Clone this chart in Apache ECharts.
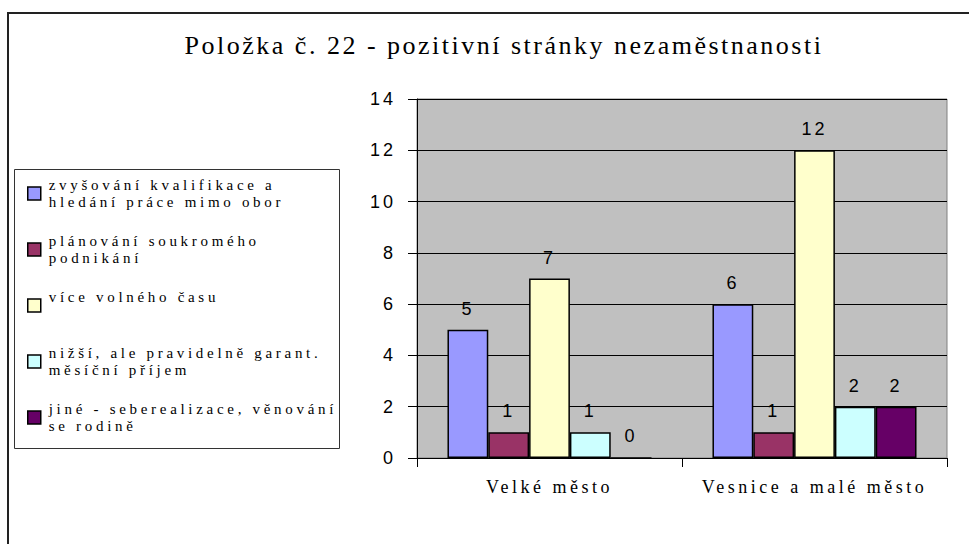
<!DOCTYPE html>
<html>
<head>
<meta charset="utf-8">
<script src="https://cdn.jsdelivr.net/npm/echarts@6/dist/echarts.min.js"></script>
<style>
html, body { margin: 0; padding: 0; background: #fff; }
#main { width: 969px; height: 544px; }
/* the original chart is drawn with widely spaced letters */
#main text[style*="26px"] { letter-spacing: 2.5px; }
#main text[style*="15px"] { letter-spacing: 3.7px; }
#main text[style*="Serif"][style*="18px"] { letter-spacing: 3.5px; }
#main text[style*="Sans"][style*="18px"] { letter-spacing: 3px; }
</style>
</head>
<body>
<div id="main"></div>
<script>
var categories = ['Velké město', 'Vesnice a malé město'];
var names = [
    'zvyšování kvalifikace a\nhledání práce mimo obor',
    'plánování soukromého\npodnikání',
    'více volného času',
    'nižší, ale pravidelně garant.\nměsíční příjem',
    'jiné - seberealizace, věnování\nse rodině'
];
var kvalifikace = [5, 6];
var podnikani = [1, 1];
var volnyCas = [7, 12];
var prijem = [1, 2];
var jine = [0, 2];
var yTicks = [0, 2, 4, 6, 8, 10, 12, 14];

var colors = ['#9999FF', '#993366', '#FFFFCC', '#CCFFFF', '#660066'];
var values = [kvalifikace, podnikani, volnyCas, prijem, jine];

var myChart = echarts.init(document.getElementById('main'), null, {renderer: 'svg'});

var series = [];
for (var i = 0; i < names.length; i++) {
    series.push({
        name: names[i],
        type: 'bar',
        data: values[i],
        barGap: 0,
        barCategoryGap: '23%',
        itemStyle: {
            color: colors[i],
            borderColor: '#000',
            borderWidth: 1.5
        },
        label: {
            show: true,
            position: 'top',
            distance: 12,
            color: '#000',
            fontFamily: 'Liberation Sans',
            fontSize: 18
        }
    });
}

var option = {
    animation: false,
    backgroundColor: '#fff',
    textStyle: {
        fontFamily: 'Liberation Serif'
    },
    title: {
        text: 'Položka č. 22 - pozitivní stránky nezaměstnanosti',
        left: 499,
        top: 27,
        textAlign: 'center',
        textStyle: {
            fontFamily: 'Liberation Serif',
            fontSize: 26,
            fontWeight: 'normal',
            color: '#000'
        }
    },
    legend: {
        orient: 'vertical',
        left: 22,
        top: 163,
        itemWidth: 13,
        itemHeight: 13,
        itemGap: 5,
        icon: 'rect',
        selectedMode: false,
        data: names,
        formatter: function (name) {
            return name.indexOf('\n') < 0 ? name + '\n' : name;
        },
        itemStyle: {
            borderColor: '#000',
            borderWidth: 1.5
        },
        textStyle: {
            fontFamily: 'Liberation Serif',
            fontSize: 15,
            lineHeight: 17,
            color: '#000',
            padding: [17, 0, 0, 3]
        }
    },
    graphic: [
        {
            type: 'rect',
            silent: true,
            shape: {x: 8, y: 13, width: 1000, height: 600},
            style: {fill: 'none', stroke: '#222', lineWidth: 2}
        },
        {
            type: 'rect',
            silent: true,
            shape: {x: 14.5, y: 169.5, width: 325, height: 279},
            style: {fill: 'none', stroke: '#333', lineWidth: 1}
        }
    ],
    grid: {
        left: 417,
        right: 22,
        top: 99,
        bottom: 86,
        show: true,
        backgroundColor: '#C0C0C0',
        borderColor: '#808080',
        borderWidth: 1
    },
    xAxis: {
        type: 'category',
        data: categories,
        axisLine: {show: true, lineStyle: {color: '#000', width: 1}},
        axisTick: {show: true, length: 9, lineStyle: {color: '#000'}},
        axisLabel: {
            margin: 20,
            color: '#000',
            fontFamily: 'Liberation Serif',
            fontSize: 18
        }
    },
    yAxis: {
        type: 'value',
        min: yTicks[0],
        max: yTicks[yTicks.length - 1],
        interval: 2,
        axisLine: {show: true, lineStyle: {color: '#000', width: 1}},
        axisTick: {show: true, length: 9, lineStyle: {color: '#000'}},
        axisLabel: {
            margin: 21,
            color: '#000',
            fontFamily: 'Liberation Sans',
            fontSize: 18
        },
        splitLine: {show: true, lineStyle: {color: '#000', width: 1}}
    },
    series: series
};

myChart.setOption(option);
</script>
</body>
</html>
